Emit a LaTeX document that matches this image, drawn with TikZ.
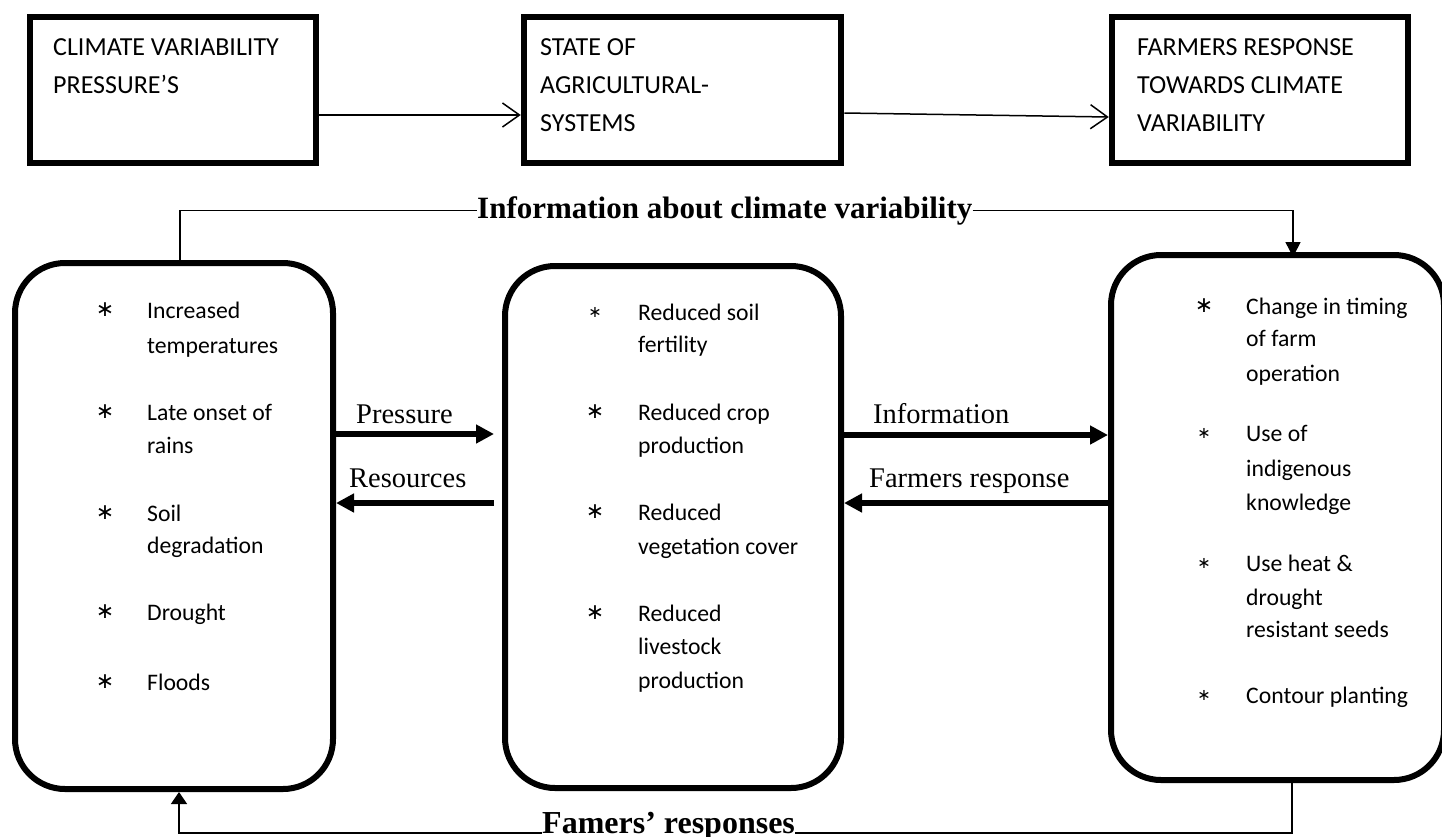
\documentclass[tikz,border=0pt]{standalone}
\usepackage{fontspec}
\setmainfont{Liberation Serif}
\newfontfamily\calib{Carlito}
\newfontfamily\djv{DejaVu Sans}
\usetikzlibrary{arrows.meta}
\begin{document}
\begin{tikzpicture}[x=1pt,y=-1pt,
  topbox/.style={draw, line width=6.5pt, inner sep=0pt, minimum height=146pt},
  roundbox/.style={draw, line width=6pt, rounded corners=50pt, inner sep=0pt},
  toptxt/.style={anchor=base west, inner sep=0pt, font=\calib\fontsize{26}{31}\selectfont},
  itemtxt/.style={anchor=base west, inner sep=0pt, font=\calib\fontsize{23.7}{28}\selectfont},
  bigstar/.style={inner sep=0pt, font=\djv\fontsize{22}{26}\selectfont},
  smallstar/.style={inner sep=0pt, font=\djv\fontsize{16}{20}\selectfont},
  flowlbl/.style={anchor=base west, inner sep=0pt, font=\fontsize{28.5}{34}\selectfont},
  boldlbl/.style={anchor=base west, inner sep=0pt, font=\bfseries\fontsize{31}{37}\selectfont},
  openarrow/.style={line width=1.5pt, -{Straight Barb[length=17pt,width=24pt,line width=1.5pt]}},
  fatarrow/.style={line width=5.5pt, -{Triangle[length=18pt,width=18pt]}},
  thinline/.style={line width=1.5pt},
]
\useasboundingbox (0,0) rectangle (1442,836);

% top row
\node[topbox, minimum width=286pt] (b1) at (173,90) {};
\node[topbox, minimum width=317pt] (b2) at (682.5,90) {};
\node[topbox, minimum width=296pt] (b3) at (1260,90) {};
\node[toptxt] (t1a) at (53,55) {CLIMATE VARIABILITY};
\node[toptxt] (t1b) at (53,93) {PRESSURE’S};
\node[toptxt] (t2a) at (540,55) {STATE OF};
\node[toptxt] (t2b) at (540,93) {AGRICULTURAL-};
\node[toptxt] (t2c) at (540,131) {SYSTEMS};
\node[toptxt] (t3a) at (1137,55) {FARMERS RESPONSE};
\node[toptxt] (t3b) at (1137,93) {TOWARDS CLIMATE};
\node[toptxt] (t3c) at (1137,131) {VARIABILITY};
\draw[openarrow] ([yshift=-25pt]b1.east) -- ([yshift=-25pt]b2.west);
\draw[openarrow] ([yshift=-23pt]b2.east) -- ([yshift=-27pt]b3.west);

% rounded boxes
\node[roundbox, minimum width=318pt, minimum height=526pt] (lbox) at (174,526) {};
\node[roundbox, minimum width=336pt, minimum height=522pt] (mbox) at (673,527) {};
\node[roundbox, minimum width=333pt, minimum height=525pt] (rbox) at (1277.5,517.5) {};

% left box items
\node[bigstar] (sl1) at (105,310) {∗};
\node[itemtxt] (l1a) at (147,318) {Increased};
\node[itemtxt] (l1b) at (147,353) {temperatures};
\node[bigstar] (sl2) at (105,412) {∗};
\node[itemtxt] (l2a) at (147,420) {Late onset of};
\node[itemtxt] (l2b) at (147,453) {rains};
\node[bigstar] (sl3) at (105,513) {∗};
\node[itemtxt] (l3a) at (147,521) {Soil};
\node[itemtxt] (l3b) at (147,553) {degradation};
\node[bigstar] (sl4) at (105,612) {∗};
\node[itemtxt] (l4a) at (147,620) {Drought};
\node[bigstar] (sl5) at (105,682) {∗};
\node[itemtxt] (l5a) at (147,690) {Floods};

% middle box items
\node[smallstar] (sm1) at (595,312) {∗};
\node[itemtxt] (m1a) at (638,320) {Reduced soil};
\node[itemtxt] (m1b) at (638,352) {fertility};
\node[bigstar] (sm2) at (595,412) {∗};
\node[itemtxt] (m2a) at (638,420) {Reduced crop};
\node[itemtxt] (m2b) at (638,453) {production};
\node[bigstar] (sm3) at (595,512) {∗};
\node[itemtxt] (m3a) at (638,520) {Reduced};
\node[itemtxt] (m3b) at (638,554) {vegetation cover};
\node[bigstar] (sm4) at (595,613) {∗};
\node[itemtxt] (m4a) at (638,621) {Reduced};
\node[itemtxt] (m4b) at (638,654) {livestock};
\node[itemtxt] (m4c) at (638,688) {production};

% right box items
\node[bigstar] (sr1) at (1204,306) {∗};
\node[itemtxt] (r1a) at (1246,314) {Change in timing};
\node[itemtxt] (r1b) at (1246,346) {of farm};
\node[itemtxt] (r1c) at (1246,381) {operation};
\node[smallstar] (sr2) at (1204,433) {∗};
\node[itemtxt] (r2a) at (1246,441) {Use of};
\node[itemtxt] (r2b) at (1246,476) {indigenous};
\node[itemtxt] (r2c) at (1246,510) {knowledge};
\node[smallstar] (sr3) at (1204,563) {∗};
\node[itemtxt] (r3a) at (1246,571) {Use heat \&};
\node[itemtxt] (r3b) at (1246,605) {drought};
\node[itemtxt] (r3c) at (1246,637) {resistant seeds};
\node[smallstar] (sr4) at (1204,695) {∗};
\node[itemtxt] (r4a) at (1246,703) {Contour planting};

% flow labels and arrows
\node[flowlbl] (lp) at (356,423) {Pressure};
\node[flowlbl] (lr) at (349,487) {Resources};
\node[flowlbl] (li) at (873,423) {Information};
\node[flowlbl] (lf) at (869,487) {Farmers response};
\draw[fatarrow, shorten >=8pt] (lbox.east |- 0,434) -- (mbox.west |- 0,434);
\draw[fatarrow, shorten <=8pt] (mbox.west |- 0,503) -- (lbox.east |- 0,503);
\draw[fatarrow] (mbox.east |- 0,435) -- (rbox.west |- 0,435);
\draw[fatarrow] (rbox.west |- 0,503) -- (mbox.east |- 0,503);

% feedback loops
\node[boldlbl] (info) at (477,218) {Information about climate variability};
\draw[thinline] (lbox.north -| 180,0) |- (info.west);
\draw[thinline, shorten >=-5pt, -{Triangle[length=15pt,width=15pt]}] (info.east) -| (rbox.north -| 1293,0);
\node[boldlbl, font=\bfseries\fontsize{32}{38}\selectfont] (fam) at (542,833) {Famers’ responses};
\draw[thinline] (rbox.south -| 1292,0) |- (fam.base east);
\draw[thinline, -{Triangle[length=12pt,width=16pt]}] (fam.base west) -| (lbox.south -| 179,0);
\end{tikzpicture}
\end{document}
